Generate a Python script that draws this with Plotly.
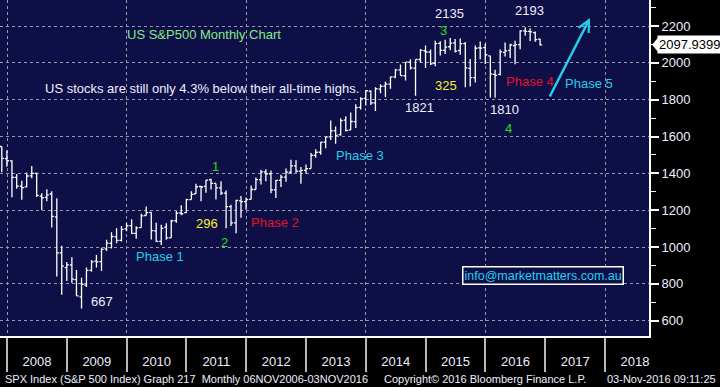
import plotly.graph_objects as go
import pandas as pd

# ---------------- data (S&P 500 monthly OHLC, Nov 2007 - Nov 2016) ----------------
months = pd.date_range("2007-11-30", periods=109, freq="ME")

opens = [
    1545.79, 1479.63,
    1467.97, 1378.60, 1330.45, 1326.41, 1385.97, 1399.62, 1276.69, 1269.42, 1287.83, 1164.17, 968.67, 888.61,
    902.99, 823.09, 729.57, 793.59, 872.74, 923.26, 920.82, 990.22, 1019.52, 1054.91, 1036.18, 1098.89,
    1116.56, 1073.89, 1105.36, 1171.23, 1188.58, 1087.30, 1031.10, 1107.53, 1049.72, 1143.49, 1185.71, 1186.60,
    1257.62, 1289.14, 1328.64, 1329.48, 1365.21, 1345.20, 1320.64, 1292.59, 1219.12, 1131.21, 1251.00, 1246.91,
    1258.86, 1312.45, 1365.90, 1408.47, 1397.86, 1309.87, 1362.33, 1379.32, 1406.54, 1440.90, 1412.20, 1416.18,
    1426.19, 1498.11, 1514.68, 1569.18, 1597.55, 1631.71, 1609.78, 1689.42, 1635.95, 1681.34, 1758.70, 1806.55,
    1845.86, 1782.68, 1857.68, 1873.96, 1884.39, 1923.87, 1962.29, 1929.80, 2004.07, 1971.44, 2018.21, 2065.78,
    2058.90, 1996.67, 2105.23, 2067.63, 2087.38, 2108.64, 2067.00, 2104.49, 1970.09, 1919.65, 2080.76, 2082.93,
    2038.20, 1936.94, 1937.09, 2056.62, 2067.17, 2093.94, 2099.34, 2173.15, 2171.33, 2164.33, 2128.68,
]
highs = [
    1545.79, 1523.57,
    1471.77, 1396.02, 1359.68, 1404.08, 1440.24, 1404.05, 1292.17, 1313.15, 1303.04, 1264.27, 1007.51, 918.85,
    943.85, 875.01, 832.98, 888.70, 930.17, 956.23, 996.68, 1039.47, 1080.15, 1101.36, 1113.69, 1130.38,
    1150.45, 1112.42, 1180.16, 1219.80, 1188.58, 1131.23, 1120.95, 1129.24, 1148.67, 1196.14, 1227.08, 1262.60,
    1302.67, 1344.07, 1332.28, 1364.56, 1370.58, 1345.20, 1356.48, 1307.38, 1229.29, 1256.55, 1277.55, 1269.37,
    1333.47, 1378.04, 1419.15, 1422.38, 1415.32, 1363.46, 1391.74, 1426.68, 1474.51, 1470.96, 1434.27, 1448.00,
    1509.94, 1530.94, 1570.28, 1597.57, 1687.18, 1654.19, 1698.78, 1709.67, 1729.86, 1775.22, 1813.55, 1849.44,
    1850.84, 1867.92, 1883.97, 1897.28, 1924.03, 1968.17, 1991.39, 2005.04, 2019.26, 2018.19, 2075.76, 2093.55,
    2072.36, 2119.59, 2117.52, 2125.92, 2134.72, 2129.87, 2132.82, 2112.66, 2020.86, 2094.32, 2116.48, 2104.27,
    2038.20, 1962.96, 2072.21, 2111.05, 2103.48, 2120.55, 2177.09, 2193.81, 2187.87, 2169.60, 2131.45,
]
lows = [
    1406.10, 1435.65,
    1270.05, 1316.75, 1256.98, 1324.35, 1373.07, 1272.00, 1200.44, 1248.64, 1106.42, 839.80, 741.02, 815.69,
    804.85, 734.52, 666.79, 783.32, 866.10, 888.86, 869.32, 978.51, 991.97, 1020.18, 1029.38, 1085.89,
    1071.59, 1044.50, 1105.36, 1170.69, 1040.78, 1028.33, 1010.91, 1039.70, 1049.72, 1131.87, 1173.00, 1186.60,
    1257.62, 1289.14, 1249.05, 1294.70, 1311.80, 1258.07, 1282.86, 1101.54, 1114.22, 1074.77, 1158.66, 1202.37,
    1258.86, 1312.45, 1340.03, 1357.38, 1291.98, 1266.74, 1325.41, 1354.65, 1396.56, 1403.28, 1343.35, 1398.11,
    1426.19, 1485.01, 1501.48, 1536.03, 1581.28, 1560.33, 1604.57, 1627.47, 1633.41, 1646.47, 1746.20, 1767.99,
    1770.45, 1737.92, 1834.44, 1814.36, 1859.79, 1915.98, 1930.67, 1904.78, 1964.04, 1820.66, 2001.01, 1972.56,
    1988.12, 1980.90, 2039.69, 2048.38, 2067.93, 2056.32, 2044.02, 1867.01, 1871.91, 1893.70, 2019.39, 1993.26,
    1812.29, 1810.10, 1931.81, 2033.80, 2025.91, 1991.68, 2074.02, 2147.58, 2119.12, 2114.72, 2094.00,
]
closes = [
    1481.14, 1468.36,
    1378.55, 1330.63, 1322.70, 1385.59, 1400.38, 1280.00, 1267.38, 1282.83, 1166.36, 968.75, 896.24, 903.25,
    825.88, 735.09, 797.87, 872.81, 919.14, 919.32, 987.48, 1020.62, 1057.08, 1036.19, 1095.63, 1115.10,
    1073.87, 1104.49, 1169.43, 1186.69, 1089.41, 1030.71, 1101.60, 1049.33, 1141.20, 1183.26, 1180.55, 1257.64,
    1286.12, 1327.22, 1325.83, 1363.61, 1345.20, 1320.64, 1292.28, 1218.89, 1131.42, 1253.30, 1246.96, 1257.60,
    1312.41, 1365.68, 1408.47, 1397.91, 1310.33, 1362.16, 1379.32, 1406.58, 1440.67, 1412.16, 1416.18, 1426.19,
    1498.11, 1514.68, 1569.19, 1597.57, 1630.74, 1606.28, 1685.73, 1632.97, 1681.55, 1756.54, 1805.81, 1848.36,
    1782.59, 1859.45, 1872.34, 1883.95, 1923.57, 1960.23, 1930.67, 2003.37, 1972.29, 2018.05, 2067.56, 2058.90,
    1994.99, 2104.50, 2067.89, 2085.51, 2107.39, 2063.11, 2103.84, 1972.18, 1920.03, 2079.36, 2080.41, 2043.94,
    1940.24, 1932.23, 2059.74, 2065.30, 2096.95, 2098.86, 2173.60, 2170.95, 2168.27, 2126.15, 2097.94,
]
last_price_label = "2097.9399"

x_range = ["2007-11-19", "2018-09-26"]
y_range = [516.9, 2341.2]

# ---------------- style ----------------
NAVY = "#0f0f47"
GRID = "#9a9aa6"
TXT = "#eeeeff"
FONT = "Liberation Sans, Arial, sans-serif"
GREEN = "#22dd22"
LGREEN = "#86e886"
YELLOW = "#f2f22a"
CYAN = "#22d0ee"
RED = "#e4102a"

PW, PH = 649, 336  # plot area size in px


def px(x):
    return x / PW


def py(y):
    return 1 - y / PH


fig = go.Figure()
fig.add_trace(go.Ohlc(
    x=months, open=opens, high=highs, low=lows, close=closes,
    increasing=dict(line=dict(color="white", width=1.3)),
    decreasing=dict(line=dict(color="white", width=1.3)),
    tickwidth=0.45, showlegend=False, hoverinfo="skip",
))
# helper trace on an overlay axis that carries the 2-year vertical gridlines
fig.add_trace(go.Scatter(
    x=[months[0]], y=[closes[0]], xaxis="x2", mode="markers",
    marker=dict(opacity=0), showlegend=False, hoverinfo="skip",
))

fig.update_layout(
    width=720, height=387,
    margin=dict(l=0, r=71, t=0, b=51, autoexpand=False),
    paper_bgcolor="black", plot_bgcolor=NAVY,
    font=dict(family=FONT, size=13, color=TXT),
    showlegend=False,
    xaxis=dict(
        type="date", range=x_range, rangeslider=dict(visible=False),
        tick0="2008-01-01", dtick="M12", tickformat="%Y", ticklabelmode="period",
        ticks="outside", ticklen=34, tickwidth=1.5, tickcolor="#b8b8b8",
        showgrid=False, showline=True, linecolor="white", linewidth=2, zeroline=False,
        ticklabelstandoff=-22, tickfont=dict(size=13, color=TXT), automargin=False,
    ),
    xaxis2=dict(
        type="date", range=x_range, overlaying="x", anchor="y",
        tick0="2008-01-01", dtick="M24", showgrid=True, gridcolor=GRID,
        griddash="3px,3px", gridwidth=1, showticklabels=False, ticks="",
        showline=False, zeroline=False, automargin=False,
    ),
    yaxis=dict(
        side="right", range=y_range, tick0=0, dtick=200,
        showgrid=True, gridcolor=GRID, griddash="3px,3px", gridwidth=1,
        ticks="outside", ticklen=8, tickwidth=2, tickcolor="white",
        showline=True, linecolor="white", linewidth=2, zeroline=False,
        minor=dict(tick0=0, dtick=100, ticks="outside", ticklen=5, tickwidth=1,
                   tickcolor="white", showgrid=False),
        tickfont=dict(size=13, color=TXT), automargin=False,
    ),
)

labels = [
    ("US S&P500 Monthly Chart", 203.5, 35, LGREEN),
    ("US stocks are still only 4.3% below their all-time highs.", 201.5, 89, TXT),
    ("2135", 449, 14, TXT),
    ("3", 443, 30, GREEN),
    ("1821", 419, 108, TXT),
    ("325", 446, 85, YELLOW),
    ("2193", 529, 11, TXT),
    ("Phase 4", 529.5, 81, RED),
    ("Phase 5", 589, 83, CYAN),
    ("1810", 504, 110, TXT),
    ("4", 508, 128, GREEN),
    ("1", 215, 166, GREEN),
    ("Phase 3", 360, 155, CYAN),
    ("Phase 1", 160, 256, CYAN),
    ("667", 102, 301, TXT),
    ("296", 207, 223, YELLOW),
    ("2", 224, 242, GREEN),
    ("Phase 2", 275, 222, RED),
]
for text, x, y, color in labels:
    fig.add_annotation(text=text, x=px(x), y=py(y), xref="paper", yref="paper",
                       showarrow=False, font=dict(size=13, color=color),
                       xanchor="center", yanchor="middle")

# Phase 5 arrow
fig.add_annotation(x=px(590), y=py(18), xref="paper", yref="paper", text="",
                   showarrow=True, ax=-41, ay=80, arrowhead=5, arrowsize=0.9,
                   arrowwidth=2.5, arrowcolor=CYAN)

# contact box
fig.add_annotation(text="info@marketmatters.com.au", x=px(543), y=py(275),
                   xref="paper", yref="paper", showarrow=False,
                   xanchor="center", yanchor="middle",
                   font=dict(size=12.5, color=CYAN), bgcolor=NAVY,
                   bordercolor="white", borderwidth=1.5, borderpad=1)

# last-price tag on the right axis
fig.add_annotation(text=last_price_label, x=1, y=closes[-1], xref="paper", yref="y",
                   xanchor="left", yanchor="middle", xshift=8, showarrow=False,
                   font=dict(size=13, color="black"), bgcolor="white", borderpad=1)
tag_y = closes[-1]
fig.add_shape(type="path", xref="paper", yref="y",
              path=f"M {1 + 3 / PW} {tag_y} L {1 + 9 / PW} {tag_y + 38} L {1 + 9 / PW} {tag_y - 38} Z",
              fillcolor="white", line=dict(width=0))

# footer
footer_y = 1 - 379 / PH
FOOT = 11
fig.add_annotation(text="SPX Index (S&P 500 Index) Graph 217  Monthly 06NOV2006-03NOV2016",
                   x=px(3), y=footer_y, xref="paper", yref="paper", xanchor="left",
                   yanchor="middle", showarrow=False, font=dict(size=FOOT, color=TXT))
fig.add_annotation(text="Copyright© 2016 Bloomberg Finance L.P.",
                   x=px(382), y=footer_y, xref="paper", yref="paper", xanchor="left",
                   yanchor="middle", showarrow=False, font=dict(size=FOOT, color=TXT))
fig.add_annotation(text="03-Nov-2016 09:11:25",
                   x=px(718), y=footer_y, xref="paper", yref="paper", xanchor="right",
                   yanchor="middle", showarrow=False, font=dict(size=FOOT, color=TXT))

fig.write_html("out.html", config={"displayModeBar": False},
               post_script="document.body.style.margin='0';")
